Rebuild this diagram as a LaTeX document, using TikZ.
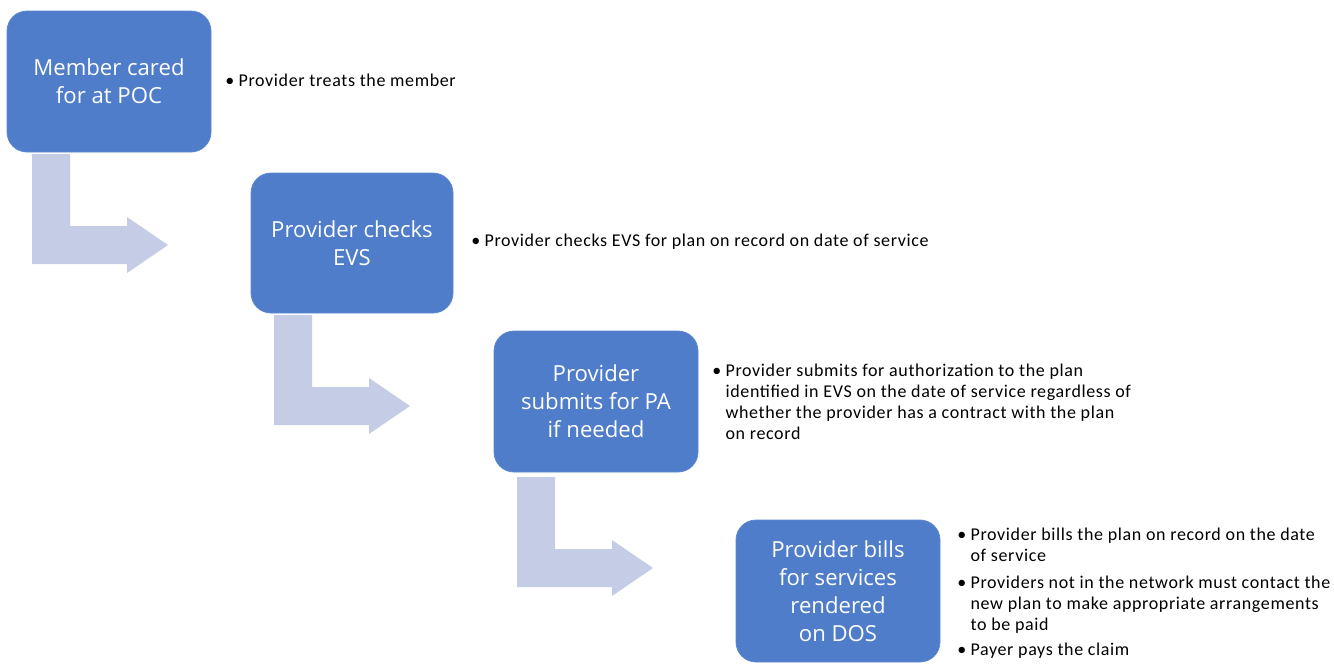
\documentclass[tikz,border=0pt]{standalone}
\usepackage{fontspec}
\setmainfont{Carlito}[LetterSpace=3.5]
\newfontfamily\boxfont{Open Sans}
\usepackage{array}
\definecolor{boxblue}{HTML}{4F7DC9}
\definecolor{boxedge}{HTML}{5C89D0}
\definecolor{arrowfill}{HTML}{C5CDE6}
\newcommand{\bul}{\makebox[10pt][l]{•}}
\begin{document}
\begin{tikzpicture}[x=0.75pt,y=-0.75pt,
  stepbox/.style={draw=boxedge, line width=0.6pt, fill=boxblue, rounded corners=15pt,
    text=white, align=center, inner sep=0pt,
    font=\boxfont\fontsize{16.6pt}{20.9pt}\selectfont},
  bullettext/.style={anchor=north west, inner sep=0pt,
    font=\fontsize{13.5pt}{15.75pt}\selectfont},
  bentarrow/.pic={\fill[arrowfill] (0,0) -- (38,0) -- (38,72) -- (95,72) -- (95,63)
     -- (136,91) -- (95,119) -- (95,110) -- (0,110) -- cycle;}
]
\useasboundingbox (0,0) rectangle (1334,664);

\node[stepbox, minimum width=204*0.75pt, minimum height=141*0.75pt] (b1) at (109,81.5)
  {Member cared\\for at POC};
\node[stepbox, minimum width=202*0.75pt, minimum height=140*0.75pt] (b2) at (352,243)
  {Provider checks\\EVS};
\node[stepbox, minimum width=204*0.75pt, minimum height=141*0.75pt] (b3) at (596,401.5)
  {Provider\\submits for PA\\if needed};
\node[stepbox, minimum width=204*0.75pt, minimum height=142*0.75pt] (b4) at (838,591)
  {Provider bills\\for services\\rendered\\on DOS};

\pic at (32,154) {bentarrow};
\pic at (274,315) {bentarrow};
\pic at (517,477) {bentarrow};

\node[bullettext] (t1) at (225,72) {\begin{tabular}{@{}l@{}l@{}}\bul & Provider treats the member\end{tabular}};
\node[bullettext] (t2) at (471,232) {\begin{tabular}{@{}l@{}l@{}}\bul & Provider checks EVS for plan on record on date of service\end{tabular}};
\node[bullettext] (t3) at (712,362) {\begin{tabular}{@{}l@{}l@{}}\bul & Provider submits for authorization to the plan\\
  & identified in EVS on the date of service regardless of\\
  & whether the provider has a contract with the plan\\
  & on record\end{tabular}};
\node[bullettext] (t4) at (957,526) {\begin{tabular}{@{}l@{}l@{}}\bul & Provider bills the plan on record on the date\\
  & of service\\[4.5pt]
  \bul & Providers not in the network must contact the\\
  & new plan to make appropriate arrangements\\
  & to be paid\\[3pt]
  \bul & Payer pays the claim\end{tabular}};
\end{tikzpicture}
\end{document}
